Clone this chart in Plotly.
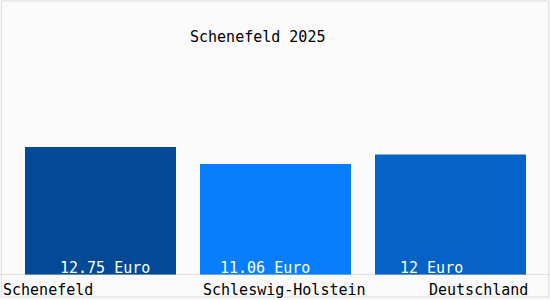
import plotly.graph_objects as go

categories = ["Schenefeld", "Schleswig-Holstein", "Deutschland"]
values = [12.75, 11.06, 12.0]
value_labels = ["12.75 Euro", "11.06 Euro", "12 Euro"]
colors = ["#024a96", "#087efa", "#0562c6"]
title = "Schenefeld 2025"

FONT = "DejaVu Sans Mono"

fig = go.Figure()
fig.add_trace(go.Bar(
    x=list(range(len(categories))), y=values,
    marker=dict(color=colors, line=dict(width=0)),
    width=0.863, hoverinfo="skip",
))

label_shift = [4, -11, -19]
cat_shift = [-53, 9, 28]
for i, (v, lab, cat) in enumerate(zip(values, value_labels, categories)):
    fig.add_annotation(x=i, y=0, text=lab, showarrow=False, xref="x", yref="y",
                       yanchor="bottom", yshift=-4, xshift=label_shift[i],
                       font=dict(family=FONT, size=15, color="white"))
    fig.add_annotation(x=i, y=0, text=cat, showarrow=False, xref="x", yref="y",
                       yanchor="top", yshift=-4, xshift=cat_shift[i],
                       font=dict(family=FONT, size=15, color="black"))

fig.add_annotation(x=0.465, y=1 - 37/275, text=title, showarrow=False, xref="paper", yref="paper",
                   yanchor="middle",
                   font=dict(family=FONT, size=15, color="black"))

fig.update_layout(
    width=550, height=300,
    margin=dict(l=13, r=12, t=0, b=25),
    paper_bgcolor="#fafafa", plot_bgcolor="#fafafa",
    showlegend=False,
    xaxis=dict(range=[-0.5, 2.5], showticklabels=False, showgrid=False, zeroline=False, fixedrange=True),
    yaxis=dict(range=[0, 27.39], showticklabels=False, showgrid=False, zeroline=False, fixedrange=True),
    shapes=[
        dict(type="line", xref="paper", yref="y", x0=-0.03, x1=1.03, y0=0, y1=0,
             line=dict(color="#c8c8c8", width=1)),
        dict(type="rect", xref="paper", yref="paper", x0=-0.022, x1=1.0205, y0=-0.08, y1=0.9965,
             line=dict(color="#dcdcdc", width=1), fillcolor="rgba(0,0,0,0)"),
    ],
)
fig.write_html("out.html")
